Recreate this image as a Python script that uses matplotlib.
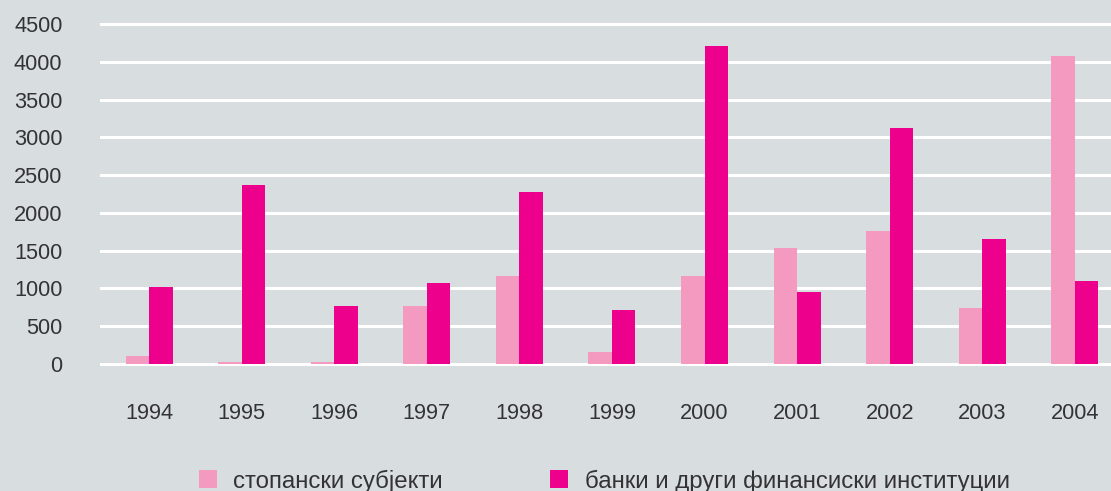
import matplotlib.pyplot as plt
import numpy as np
from matplotlib.patches import Patch

plt.rcParams.update({
    "font.family": ["Liberation Sans", "DejaVu Sans"],
    "font.size": 15,
    "text.color": "#333333",
    "xtick.color": "#333333",
    "ytick.color": "#333333",
})

# data
years = ["1994", "1995", "1996", "1997", "1998", "1999",
         "2000", "2001", "2002", "2003", "2004"]
companies = [105, 25, 25, 770, 1165, 160, 1165, 1535, 1760, 740, 4075]
banks = [1020, 2370, 770, 1070, 2280, 715, 4210, 955, 3125, 1655, 1100]
yticks = [0, 500, 1000, 1500, 2000, 2500, 3000, 3500, 4000, 4500]
labels = ["стопански субјекти", "банки и други финансиски институции"]

colors = {"light": "#f49ac1", "dark": "#ec008c"}
bg = "#d8dde0"

fig = plt.figure(figsize=(11.11, 4.91), dpi=100, facecolor=bg)
# axes placed in pixel terms: left 100, right 1111, top ~20, bottom ~368
ax = fig.add_axes([100 / 1111, 1 - 367.8 / 491, 1011 / 1111, (367.8 - 20.2) / 491])
ax.set_facecolor(bg)

x = np.arange(len(years))
w = 0.254
ax.bar(x - w / 2, companies, w, color=colors["light"], zorder=3)
ax.bar(x + w / 2, banks, w, color=colors["dark"], zorder=3)

ax.set_xlim(-0.53, 10.39)
ax.set_ylim(-50, 4550)
ax.set_yticks(yticks)
ax.set_xticks(x)
ax.set_xticklabels(years)
ax.tick_params(axis="y", length=0, pad=27, labelsize=15.7)
ax.tick_params(axis="x", length=0, pad=25, labelsize=15.7)

for t in yticks:
    ax.axhline(t, color="white", lw=2.2, zorder=2)

for s in ax.spines.values():
    s.set_visible(False)

handles = [Patch(facecolor=colors["light"]), Patch(facecolor=colors["dark"])]
fig.legend(handles, labels, loc="center", bbox_to_anchor=(0.5437, 1 - 481 / 491),
           ncol=2, frameon=False, fontsize=17.3, handlelength=0.75, handleheight=0.75,
           handletextpad=0.67, columnspacing=4.5, borderpad=0)

fig.savefig("out.png", dpi=100, facecolor=bg)
